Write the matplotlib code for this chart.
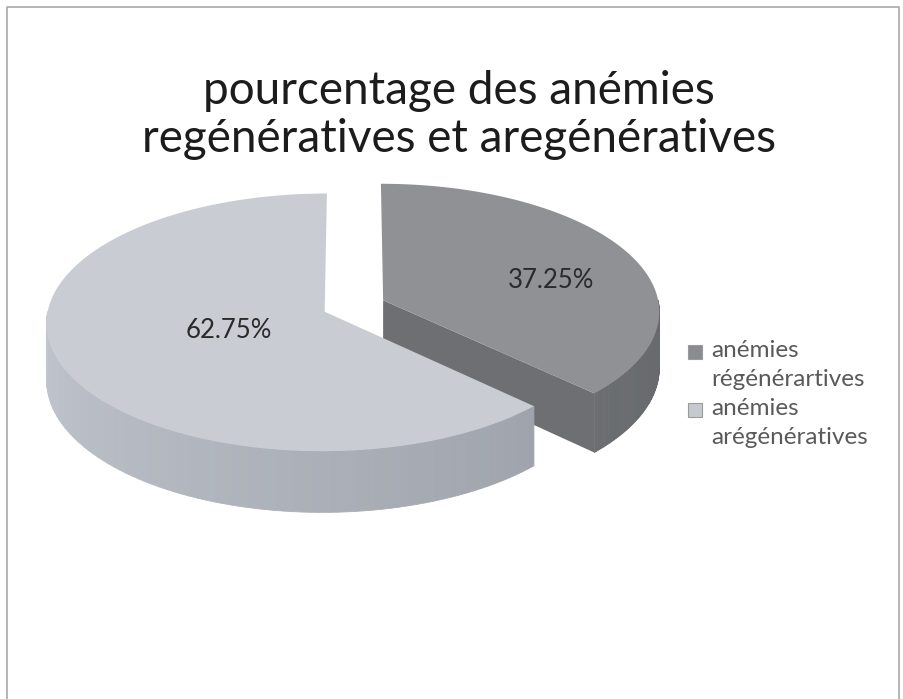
import numpy as np
import matplotlib.pyplot as plt
from matplotlib.patches import Polygon, Rectangle

# data
labels = ['anémies\nrégénérartives', 'anémies\narégénératives']
values = [37.25, 62.75]
title = 'pourcentage des anémies\nregénératives et aregénératives'

top_colors = ['#8f9194', '#c9cdd3']
cut_colors = ['#6d6f72', '#9da1a6']
rim_dark = [np.array([0.40, 0.41, 0.42]), np.array([0.58, 0.60, 0.63])]
rim_light = [np.array([0.48, 0.49, 0.50]), np.array([0.76, 0.78, 0.81])]
legend_colors = ['#8a8c8f', '#c6cad0']
label_pos = [(551, 280), (229, 331)]

# pie geometry (pixels)
cx, cy = 354, 306
A, B = 276, 127
k = 0.082
H = 56
explode = 0.115


def proj(u, v, down=0.0):
    s = 1.0 / (1.0 + k * v)
    return cx + A * u * s, cy + (-B * v + down) * s


fig = plt.figure(figsize=(9.04, 6.99), dpi=100)
ax = fig.add_axes([0, 0, 1, 1])
ax.set_xlim(0, 904)
ax.set_ylim(699, 0)
ax.axis('off')

# outer frame
ax.plot([7, 7, 899, 899], [699, 7, 7, 699], color='#a8a8a8', lw=1.2)

ax.text(459, 115, title, ha='center', va='center', fontsize=33,
        family='Lato', color='#1c1c1c', linespacing=1.18)

# slices
slices = []
start = 0.0
for i, val in enumerate(values):
    t0 = start
    t1 = start + 360.0 * val / sum(values)
    mid = np.radians((t0 + t1) / 2)
    slices.append((i, t0, t1, explode * np.sin(mid), explode * np.cos(mid)))
    start = t1

# back slices first
for i, t0, t1, ou, ov in sorted(slices, key=lambda s: -s[4]):
    # cut faces
    for t, nrm in ((t0, t0 - 90), (t1, t1 + 90)):
        if np.cos(np.radians(nrm)) < -1e-6:
            r = np.radians(t)
            eu, ev = ou + np.sin(r), ov + np.cos(r)
            pts = [proj(ou, ov), proj(eu, ev), proj(eu, ev, H), proj(ou, ov, H)]
            ax.add_patch(Polygon(pts, closed=True, fc=cut_colors[i], ec='none'))
    # outer rim, front half only
    a0, a1 = max(t0, 90), min(t1, 270)
    if a1 > a0:
        ts = np.linspace(a0, a1, 80)
        for ta, tb in zip(ts[:-1], ts[1:]):
            ra, rb = np.radians(ta), np.radians(tb)
            pa = (ou + np.sin(ra), ov + np.cos(ra))
            pb = (ou + np.sin(rb), ov + np.cos(rb))
            f = (0.5 * (ta + tb) - 90) / 180.0
            col = rim_dark[i] + (rim_light[i] - rim_dark[i]) * f
            pts = [proj(*pa), proj(*pb), proj(*pb, H), proj(*pa, H)]
            ax.add_patch(Polygon(pts, closed=True, fc=col, ec=col, lw=0.6))
    # top face
    ts = np.radians(np.linspace(t0, t1, 200))
    pts = [proj(ou, ov)] + [proj(ou + np.sin(t), ov + np.cos(t)) for t in ts]
    ax.add_patch(Polygon(pts, closed=True, fc=top_colors[i], ec='none'))
    # percent label
    lx, ly = label_pos[i]
    ax.text(lx, ly, f'{values[i]:.2f}%', ha='center', va='center',
            fontsize=18.5, family='Lato', color='#2a2a2a')

# legend
for j, (lab, col) in enumerate(zip(labels, legend_colors)):
    y0 = 345 + j * 58
    ax.add_patch(Rectangle((688, y0), 14, 14, fc=col, ec='#9a9a9a', lw=0.8))
    ax.text(711, y0 - 5, lab, ha='left', va='top', fontsize=17.5,
            family='Lato', color='#5a5a5a', linespacing=1.45)

fig.savefig('out.png', dpi=100)
